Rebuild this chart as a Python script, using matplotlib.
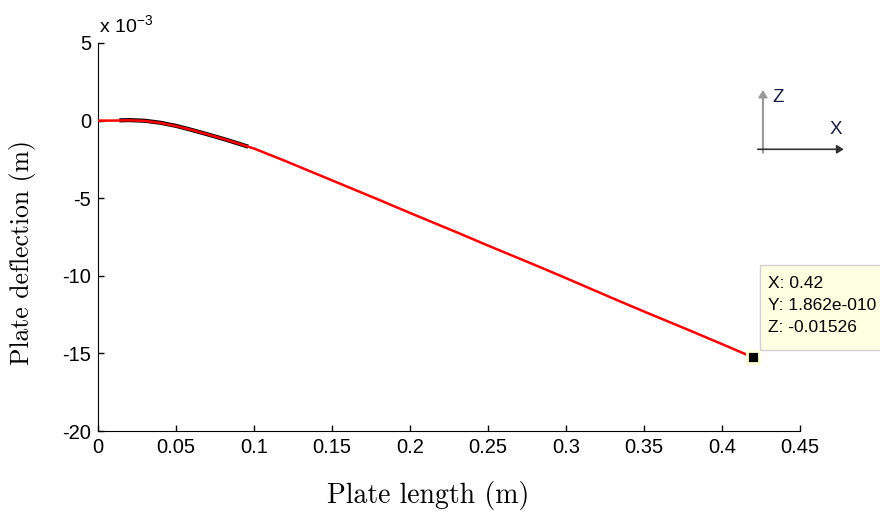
"""Plate deflection along plate length, MATLAB-style figure with data tip."""
import matplotlib

matplotlib.use("Agg")
import matplotlib.pyplot as plt
from matplotlib.patches import FancyArrowPatch, Rectangle

plt.rcParams["axes.unicode_minus"] = False

# deflection curve (x in m, y in 1e-3 m)
x_red = [0.0, 0.01, 0.02, 0.03, 0.04, 0.05, 0.06, 0.07, 0.08, 0.09, 0.10,
         0.12, 0.15, 0.18, 0.20, 0.23, 0.25, 0.28, 0.30, 0.33, 0.35, 0.38, 0.40, 0.42]
y_red = [0.0, 0.0, 0.02, -0.02, -0.15, -0.35, -0.6, -0.88, -1.17, -1.48, -1.8,
         -2.6, -3.85, -5.1, -5.95, -7.2, -8.05, -9.3, -10.15, -11.45, -12.3, -13.55, -14.4, -15.26]
# overlapping black segment
x_blk = [0.015, 0.02, 0.03, 0.04, 0.05, 0.06, 0.07, 0.08, 0.09, 0.095]
y_blk = [0.02, 0.03, -0.01, -0.14, -0.34, -0.6, -0.88, -1.17, -1.48, -1.64]

tip_x, tip_y = 0.42, -15.26
tip_lines = ["X: 0.42", "Y: 1.862e-010", "Z: -0.01526"]

x_ticks = [0, 0.05, 0.1, 0.15, 0.2, 0.25, 0.3, 0.35, 0.4, 0.45]
x_labels = ["0", "0.05", "0.1", "0.15", "0.2", "0.25", "0.3", "0.35", "0.4", "0.45"]
y_ticks = [-20, -15, -10, -5, 0, 5]

sans = ["Liberation Sans", "DejaVu Sans"]

fig = plt.figure(figsize=(8.8, 5.13), dpi=100)
ax = fig.add_axes([0.1114, 0.1598, 0.7977, 0.7564])

ax.plot(x_red, y_red, color="red", lw=1.8, zorder=3)
ax.plot(x_blk, y_blk, color="black", lw=3.0, zorder=2)
ax.plot([tip_x], [tip_y], marker="s", ms=9, mfc="black", mec="#ffffd8", mew=2,
        zorder=5, clip_on=False)

ax.set_xlim(0, 0.45)
ax.set_ylim(-20, 5)
ax.set_xticks(x_ticks)
ax.set_xticklabels(x_labels)
ax.set_yticks(y_ticks)
for sp in ("top", "right"):
    ax.spines[sp].set_visible(False)
ax.tick_params(direction="in", length=4, width=1, labelsize=14.5, pad=5)
for lab in ax.get_xticklabels() + ax.get_yticklabels():
    lab.set_family(sans)

fig.text(0.112, 0.935, "x 10$^{\\mathregular{-3}}$", fontsize=14, family=sans,
         ha="left", va="baseline")

ax.set_xlabel("Plate length (m)", family="cmr10", fontsize=20)
ax.xaxis.set_label_coords(0.47, -0.128)
ax.set_ylabel("Plate deflection (m)", family="cmr10", fontsize=18.5)
ax.yaxis.set_label_coords(-0.088, 0.459)

# data tip box, running off the right edge
fig.add_artist(Rectangle((0.8636, 0.3177), 0.2, 0.1657, transform=fig.transFigure,
                         fc="#ffffe1", ec="#d0d0d0", lw=1, zorder=4))
for i, line in enumerate(tip_lines):
    fig.text(0.8727, 0.4483 - i * 0.0429, line, fontsize=12.5, family=sans,
             va="center", ha="left", zorder=5)

# orientation glyph (Z up, X right)
fig.add_artist(FancyArrowPatch(
    (0.867, 0.697), (0.867, 0.830), transform=fig.transFigure,
    arrowstyle="-|>,head_length=4,head_width=2.5", color="#999999", lw=1.5))
fig.add_artist(FancyArrowPatch(
    (0.858, 0.709), (0.962, 0.709), transform=fig.transFigure,
    arrowstyle="-|>,head_length=4,head_width=2.5", color="#333333", lw=1.2))
fig.text(0.878, 0.802, "Z", fontsize=13.5, color="#1a1a40", family=sans)
fig.text(0.943, 0.738, "X", fontsize=13.5, color="#1a1a40", family=sans)

fig.savefig("out.png", dpi=100)
